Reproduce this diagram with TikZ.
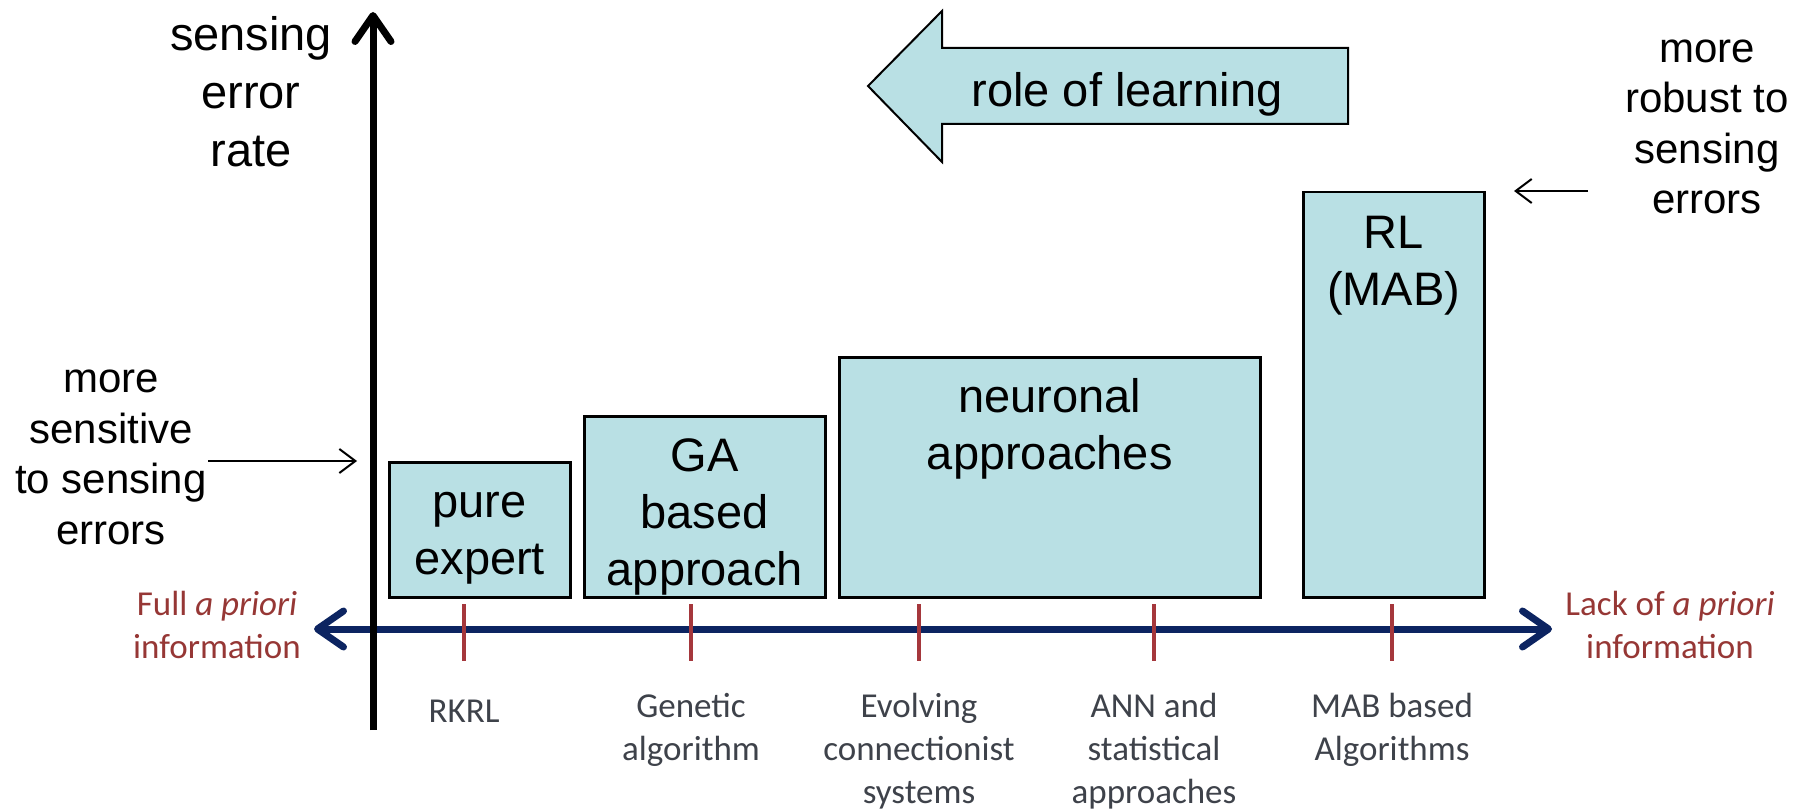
\documentclass[tikz,border=0pt]{standalone}
\usepackage{fontspec}
\setmainfont{Liberation Sans}
\newfontfamily\calibri{Carlito}
\usetikzlibrary{arrows.meta,calc}

\definecolor{boxfill}{RGB}{185,224,228}
\definecolor{axisnavy}{RGB}{12,36,97}
\definecolor{tickred}{RGB}{165,55,60}
\definecolor{infored}{RGB}{150,55,53}
\definecolor{labelgray}{RGB}{62,66,74}

\tikzset{
  axisbarb/.tip={Straight Barb[length=26pt,width=36pt,round]},
  thinbarb/.tip={Straight Barb[length=16pt,width=24pt]},
}

\begin{document}
\begin{tikzpicture}[x=1pt,y=-1pt,
  box/.style={draw=black, line width=2.5pt, fill=boxfill, anchor=north west, inner sep=0pt},
  boxtext/.style={font=\fontsize{47}{57}\selectfont, align=center, anchor=north, inner sep=0pt},
  axistext/.style={font=\fontsize{47}{58}\selectfont, align=center, anchor=north, inner sep=0pt},
  note/.style={font=\fontsize{42}{50.5}\selectfont, align=center, anchor=north, inner sep=0pt},
  ticklabel/.style={font=\calibri\fontsize{35}{43}\selectfont, text=labelgray, align=center, anchor=north, inner sep=0pt},
  infolabel/.style={font=\calibri\fontsize{35}{43}\selectfont, text=infored, align=center, anchor=north, inner sep=0pt},
  tickmark/.style={draw=tickred, line width=4pt},
  pointer/.style={line width=2pt, -thinbarb},
]
\useasboundingbox (0,0) rectangle (1806,810);

% large "role of learning" arrow
\draw[line width=2pt, fill=boxfill, line join=miter]
  (868,86) -- (942,11) -- (942,48) -- (1348,48) -- (1348,124)
  -- (942,124) -- (942,162) -- cycle;
\node[boxtext] (role) at (1127,66.1) {\strut role of learning};

% horizontal axis: amount of a priori information
\coordinate (xleft) at (314,629);
\coordinate (xright) at (1552,629);
\draw[draw=axisnavy, line width=7pt, axisbarb-axisbarb] (xleft) -- (xright);

% ticks and their labels
\foreach \name/\x in {t1/464, t2/691, t3/919, t4/1154, t5/1392}
  \coordinate (\name) at (\x,629);
\foreach \name in {t1,t2,t3,t4,t5}
  \draw[tickmark] ($(\name)+(0,-25)$) -- ($(\name)+(0,32)$);

\node[ticklabel] (l1) at ($(t1)+(0,62.9)$) {\strut RKRL};
\node[ticklabel] (l2) at ($(t2)+(0,57.9)$) {\strut Genetic\\algorithm};
\node[ticklabel] (l3) at ($(t3)+(0,57.9)$) {\strut Evolving\\connectionist\\systems};
\node[ticklabel] (l4) at ($(t4)+(0,57.9)$) {\strut ANN and\\statistical\\approaches};
\node[ticklabel] (l5) at ($(t5)+(0,57.9)$) {\strut MAB based\\Algorithms};

\node[infolabel] (full) at (217,584.9) {\strut Full {\itshape a priori}\\information};
\node[infolabel] (lack) at (1670,584.9) {\strut Lack of {\itshape a priori}\\information};

% approach boxes
\node[box, minimum width=181pt, minimum height=135pt] (pure) at (388,461) {};
\node[box, minimum width=241pt, minimum height=181pt] (ga) at (583,415) {};
\node[box, minimum width=421pt, minimum height=240pt] (neur) at (838,356) {};
\node[box, minimum width=181pt, minimum height=405pt] (rl) at (1302,191) {};

\node[boxtext] (pureT) at ($(pure.north)+(0,16.1)$) {\strut pure\\expert};
\node[boxtext] (gaT) at ($(ga.north)+(0,16.1)$) {\strut GA\\based\\approach};
\node[boxtext] (neurT) at ($(neur.north)+(0,16.1)$) {\strut neuronal\\approaches};
\node[boxtext] (rlT) at ($(rl.north)+(0,17.1)$) {\strut RL\\(MAB)};

% vertical axis: sensing error rate
\coordinate (ybot) at (373,730);
\coordinate (ytop) at (373,12);
\draw[line width=7pt, -axisbarb] (ybot) -- (ytop);
\node[axistext] (yname) at (251,9.4) {\strut sensing\\error\\rate};

% side notes with pointers
\node[note] (sens) at (111,357.3) {\strut more\\sensitive\\to sensing\\errors};
\coordinate (sensFrom) at (208,461);
\coordinate (sensTo) at (357,461);
\draw[pointer] (sensFrom) -- (sensTo);

\node[note] (rob) at (1707,26.6) {\strut more\\robust to\\sensing\\errors};
\coordinate (robFrom) at (1588,191);
\coordinate (robTo) at (1514,191);
\draw[pointer] (robFrom) -- (robTo);
\end{tikzpicture}
\end{document}
